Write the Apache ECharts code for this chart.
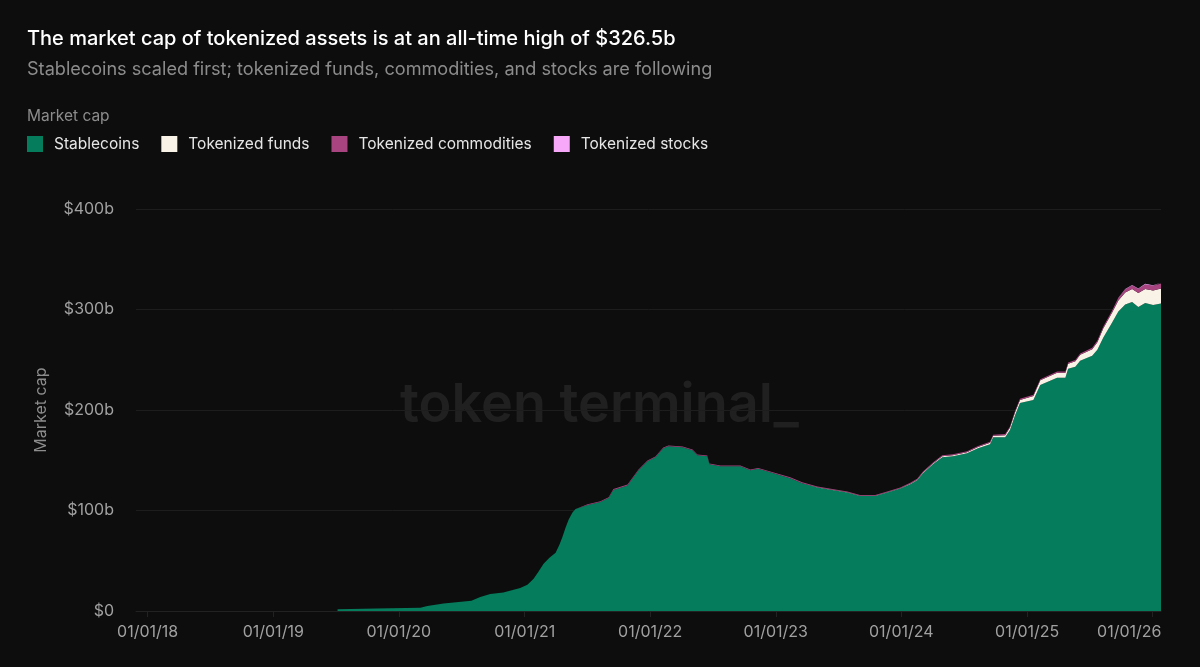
<!DOCTYPE html>
<html>
<head>
<meta charset="utf-8">
<title>Tokenized assets market cap</title>
<style>
  html, body { margin: 0; padding: 0; background: #0d0d0e; }
  #chart { width: 1200px; height: 667px; }
</style>
</head>
<body>
<div id="chart"></div>
<script src="https://cdn.jsdelivr.net/npm/echarts@6/dist/echarts.min.js"></script>
<script>
// values, in $b
const dates = [
  '2019-07-07', '2019-10-28', '2020-03-04', '2020-03-24', '2020-05-10', '2020-07-30', '2020-08-25', '2020-09-23', '2020-10-31', '2020-12-19',
  '2021-01-09', '2021-01-27', '2021-02-10', '2021-02-25', '2021-03-14', '2021-04-01', '2021-04-12', '2021-04-21', '2021-04-30', '2021-05-09',
  '2021-05-20', '2021-05-29', '2021-07-03', '2021-08-09', '2021-09-02', '2021-09-16', '2021-10-27', '2021-11-28', '2021-12-24', '2022-01-16',
  '2022-02-08', '2022-02-23', '2022-04-05', '2022-05-04', '2022-05-18', '2022-06-16', '2022-06-22', '2022-07-24', '2022-09-20', '2022-10-19',
  '2022-11-11', '2022-12-16', '2023-02-12', '2023-03-19', '2023-05-02', '2023-06-23', '2023-07-28', '2023-09-03', '2023-10-17', '2023-11-21',
  '2023-12-29', '2024-01-27', '2024-02-16', '2024-03-04', '2024-04-02', '2024-04-29', '2024-05-30', '2024-07-10', '2024-08-11', '2024-09-15',
  '2024-09-24', '2024-10-29', '2024-11-12', '2024-11-27', '2024-12-11', '2025-01-19', '2025-02-08', '2025-03-29', '2025-04-22', '2025-04-30',
  '2025-05-21', '2025-06-04', '2025-07-09', '2025-07-24', '2025-08-10', '2025-09-05', '2025-09-23', '2025-10-13', '2025-11-02', '2025-11-20',
  '2025-12-10', '2026-01-02', '2026-01-25'
];
const stablecoins = [
  1.7, 2.5, 3.3, 5, 7.5, 10.3, 14, 17, 18.5, 23,
  26, 32, 39, 47, 53, 58, 66, 74, 83, 91,
  98, 101.5, 105.5, 108.5, 112.5, 120.5, 125, 140, 149, 153,
  162, 164, 163, 160, 155, 154, 146, 144, 144, 140,
  141.5, 138, 132, 127, 123, 120, 118, 114.5, 114.5, 118,
  122, 126, 130, 137, 146, 153, 154, 157, 162, 166,
  173, 173, 180, 195, 207, 210, 225, 232, 232, 241,
  243, 249, 254, 260, 272, 287, 298, 305, 307.5, 302.5,
  306.5, 304.5, 306
];
const funds = [
  0, 0, 0, 0, 0, 0, 0, 0, 0, 0,
  0, 0, 0, 0, 0, 0, 0, 0, 0, 0,
  0, 0, 0, 0, 0, 0, 0, 0, 0, 0,
  0, 0, 0, 0, 0, 0, 0, 0, 0, 0,
  0, 0, 0.2, 0.2, 0.2, 0.2, 0.2, 0.2, 0.2, 0.2,
  0.2, 0.6, 0.6, 0.7, 0.8, 0.9, 0.9, 1, 1.2, 1.3,
  1.4, 2, 2.5, 3, 3, 4, 4.5, 5, 5, 5,
  5.5, 6, 6.5, 7.5, 9, 10, 11, 12, 13, 14,
  14, 14.5, 15
];
const commodities = [
  0, 0, 0, 0, 0, 0, 0, 0, 0, 0,
  0, 0, 0, 0, 0, 0, 0, 0, 0, 0,
  0, 0, 0.8, 0.8, 0.8, 0.8, 0.8, 0.8, 0.8, 0.8,
  0.8, 0.8, 0.8, 0.8, 0.8, 0.8, 0.8, 0.8, 0.8, 0.8,
  0.8, 0.8, 0.8, 0.8, 0.8, 0.8, 0.8, 0.8, 0.8, 0.8,
  0.8, 1, 1, 1, 1, 1, 1, 1, 1, 1,
  1, 1.2, 1.2, 1.2, 1.2, 1.2, 1.2, 1.2, 1.2, 1.2,
  1.2, 1.2, 1.5, 1.6, 1.8, 2, 2.5, 3, 3.5, 4,
  4.4, 4.6, 4.8
];
const stocks = [
  0, 0, 0, 0, 0, 0, 0, 0, 0, 0,
  0, 0, 0, 0, 0, 0, 0, 0, 0, 0,
  0, 0, 0, 0, 0, 0, 0, 0, 0, 0,
  0, 0, 0, 0, 0, 0, 0, 0, 0, 0,
  0, 0, 0, 0, 0, 0, 0, 0, 0, 0,
  0, 0, 0, 0, 0, 0, 0, 0, 0, 0,
  0, 0, 0, 0, 0, 0, 0, 0, 0, 0,
  0, 0, 0, 0, 0.1, 0.1, 0.2, 0.3, 0.4, 0.5,
  0.6, 0.6, 0.7
];
const tickYears = [2018, 2019, 2020, 2021, 2022, 2023, 2024, 2025, 2026];
const tickLabels = ['01/01/18', '01/01/19', '01/01/20', '01/01/21', '01/01/22', '01/01/23', '01/01/24', '01/01/25', '01/01/26'];
const seriesNames = ['Stablecoins', 'Tokenized funds', 'Tokenized commodities', 'Tokenized stocks'];
const seriesColors = ['#057c5b', '#f8f3e6', '#a8447f', '#f8a8f8'];

const fontName = 'Inter, "Noto Sans", sans-serif';
const tickTimes = tickYears.map(y => +new Date(y, 0, 1));

function pairs(values) {
  return dates.map((d, i) => [d, values[i]]);
}

function makeArea(name, color, values) {
  return {
    name: name,
    type: 'line',
    stack: 'cap',
    data: pairs(values),
    showSymbol: false,
    silent: true,
    animation: false,
    itemStyle: {color: color},
    lineStyle: {width: 0},
    areaStyle: {color: color, opacity: 1}
  };
}

const chart = echarts.init(document.getElementById('chart'), null, {renderer: 'canvas'});
chart.setOption({
  backgroundColor: '#0d0d0e',
  animation: false,
  title: [
    {
      text: 'The market cap of tokenized assets is at an all-time high of $326.5b',
      left: 22, top: 24,
      textStyle: {color: '#ffffff', fontFamily: fontName, fontSize: 20, fontWeight: 500}
    },
    {
      text: 'Stablecoins scaled first; tokenized funds, commodities, and stocks are following',
      left: 22, top: 56,
      textStyle: {color: '#8c8c8c', fontFamily: fontName, fontSize: 18.13, fontWeight: 400}
    },
    {
      text: 'Market cap',
      left: 22, top: 103,
      textStyle: {color: '#8c8c8c', fontFamily: fontName, fontSize: 15.5, fontWeight: 400}
    }
  ],
  legend: {
    left: 22, top: 131,
    icon: 'rect',
    itemWidth: 16, itemHeight: 16, itemGap: 22,
    selectedMode: false,
    data: seriesNames,
    textStyle: {color: '#e6e6e6', fontFamily: fontName, fontSize: 15.5, padding: [0, 0, 0, 6]}
  },
  graphic: [{
    type: 'text',
    z: -1,
    left: 400, top: 379,
    style: {
      text: 'token terminal_',
      fill: '#202020',
      font: '600 54px Inter, sans-serif'
    }
  }],
  grid: {left: 136, right: 39, top: 209, bottom: 56},
  xAxis: {
    type: 'time',
    min: +new Date(2017, 10, 28),
    max: +new Date(2026, 0, 25),
    minInterval: 365 * 24 * 3600 * 1000,
    axisLine: {show: true, lineStyle: {color: '#222222'}},
    axisTick: {show: true, length: 6, lineStyle: {color: '#222222'}},
    splitLine: {show: false},
    axisLabel: {
      color: '#a0a0a0',
      fontFamily: fontName,
      fontSize: 16,
      margin: 13,
      hideOverlap: false,
      showMinLabel: false,
      showMaxLabel: false,
      formatter: function (value) {
        let index = tickTimes.indexOf(value);
        if (index < 0) {
          return '';
        }
        if (index === tickTimes.length - 1) {
          return '{last|' + tickLabels[index] + '}';
        }
        return tickLabels[index];
      },
      rich: {
        last: {color: '#a0a0a0', fontFamily: fontName, fontSize: 16, padding: [0, 47, 0, 0]}
      }
    }
  },
  yAxis: {
    type: 'value',
    min: 0,
    max: 400,
    interval: 100,
    name: 'Market cap',
    nameLocation: 'middle',
    nameGap: 87,
    nameTextStyle: {color: '#8c8c8c', fontFamily: fontName, fontSize: 16},
    axisLine: {show: false},
    axisTick: {show: false},
    splitLine: {lineStyle: {color: '#1d1d1d', width: 1}},
    axisLabel: {
      color: '#a0a0a0',
      fontFamily: fontName,
      fontSize: 16,
      margin: 22,
      formatter: function (value) {
        return '$' + value + (value === 0 ? '' : 'b');
      }
    }
  },
  series: [
    makeArea(seriesNames[0], seriesColors[0], stablecoins),
    makeArea(seriesNames[1], seriesColors[1], funds),
    makeArea(seriesNames[2], seriesColors[2], commodities),
    makeArea(seriesNames[3], seriesColors[3], stocks)
  ]
});
</script>
</body>
</html>
